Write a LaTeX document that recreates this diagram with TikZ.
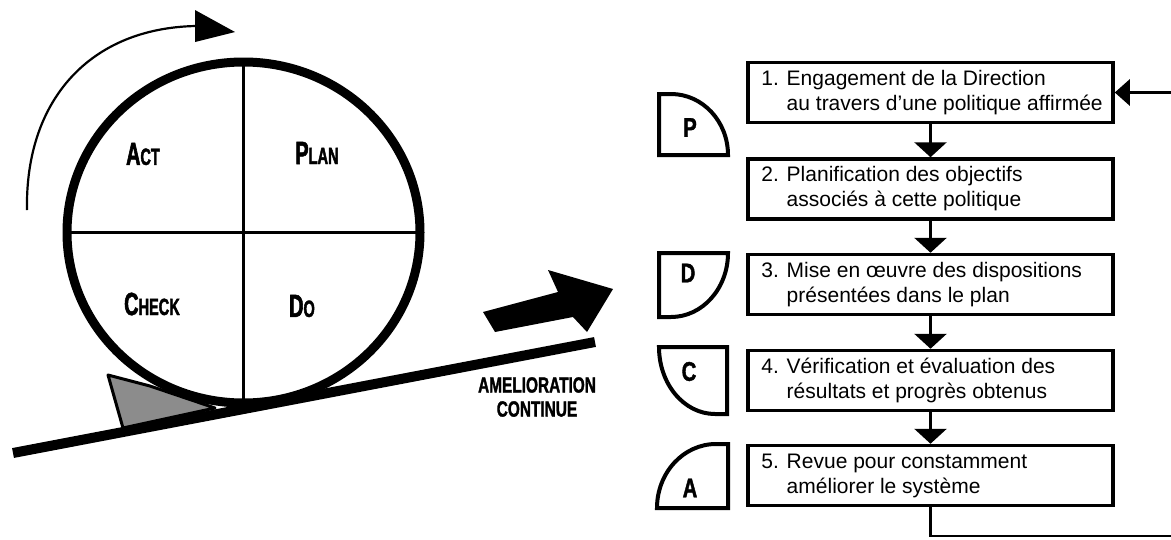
\documentclass[tikz,border=0pt]{standalone}
\usepackage{fontspec}
\setmainfont{Liberation Sans}
\newfontfamily\condA{Liberation Sans}[FakeStretch=0.62, BoldFeatures={FakeBold=1.8}]
\newfontfamily\condB{Liberation Sans}[FakeStretch=0.7, BoldFeatures={FakeBold=1.5}]
\newfontfamily\condC{Liberation Sans}[FakeStretch=0.75, BoldFeatures={FakeBold=1.5}]
\usetikzlibrary{arrows.meta}
\definecolor{wedgegray}{RGB}{140,140,140}
\begin{document}
\begin{tikzpicture}[x=1pt,y=-1pt,
  wheel/.style={line width=9pt},
  cross/.style={line width=3.5pt},
  wlabel/.style={font=\condA\bfseries\fontsize{32}{32}\selectfont, inner sep=0pt},
  box/.style={draw, line width=3.5pt, minimum width=365pt, minimum height=60pt, inner sep=0pt},
  boxtext/.style={anchor=west, align=left, inner sep=0pt, font=\fontsize{21}{25}\selectfont},
  flow/.style={line width=3pt, -{Triangle[length=15pt,width=32pt]}},
  loopline/.style={line width=2.5pt},
  quad/.style={draw, line width=4pt, line join=miter},
  letter/.style={font=\condC\bfseries\fontsize{27}{27}\selectfont, inner sep=0pt},
  contlabel/.style={font=\condB\bfseries\fontsize{22}{24}\selectfont, align=center, inner sep=0pt}
]
\useasboundingbox (0,0) rectangle (1171,539);

% ---------- left: PDCA wheel on a slope ----------
\coordinate (wc) at (243.5,232.5);
% wedge
\filldraw[fill=wedgegray, line width=3pt, line join=round]
  (108,375) -- (150,386) -- (215,408) -- (123,428) -- cycle;
% cross
\draw[cross] (243.5,62) -- (243.5,403);
\draw[cross] (67,232.5) -- (420,232.5);
% wheel
\draw[wheel] (wc) ellipse [x radius=176.5pt, y radius=170.5pt];
% slope
\draw[line width=10pt] (13,453) -- (595,342);
% rotation arrow
\draw[line width=2.2pt] (27,210) .. controls (25,100) and (90,28) .. (196,26);
\fill (195,10) -- (235,32) -- (195,42) -- cycle;
% big arrow
\fill (483,312) -- (558,292) -- (548,270) -- (613,289) -- (587,332) -- (573,317) -- (495,332) -- cycle;

% wheel labels
\node[wlabel] (act) at (143,154) {A{\fontsize{23.5}{24}\selectfont CT}};
\node[wlabel] (plan) at (317,153) {P{\fontsize{23.5}{24}\selectfont LAN}};
\node[wlabel] (check) at (152,304) {C{\fontsize{23.5}{24}\selectfont HECK}};
\node[wlabel] (do) at (302,306) {D{\fontsize{23.5}{24}\selectfont O}};
\node[contlabel] (amel) at (537,397) {AMELIORATION\\CONTINUE};

% ---------- right: steps ----------
\node[box] (b1) at (930.5,92.5) {};
\node[box] (b2) at (930.5,189) {};
\node[box] (b3) at (930.5,284.5) {};
\node[box] (b4) at (930.5,380.5) {};
\node[box] (b5) at (930.5,475.5) {};

\node[boxtext] (t1) at ([xshift=15pt]b1.west) {1. Engagement de la Direction\\\phantom{1. }au travers d'une politique affirmée};
\node[boxtext] (t2) at ([xshift=15pt]b2.west) {2. Planification des objectifs\\\phantom{2. }associés à cette politique};
\node[boxtext] (t3) at ([xshift=15pt]b3.west) {3. Mise en œuvre des dispositions\\\phantom{3. }présentées dans le plan};
\node[boxtext] (t4) at ([xshift=15pt]b4.west) {4. Vérification et évaluation des\\\phantom{4. }résultats et progrès obtenus};
\node[boxtext] (t5) at ([xshift=15pt]b5.west) {5. Revue pour constamment\\\phantom{5. }améliorer le système};

\draw[flow] (b1) -- (b2);
\draw[flow] (b2) -- (b3);
\draw[flow] (b3) -- (b4);
\draw[flow] (b4) -- (b5);

\coordinate (f1) at (930.5,536);
\coordinate (f2) at (1171,536);
\coordinate (f3) at (1171,92.5);
\draw[loopline] (b5) -- (f1) -- (f2);
\draw[loopline, -{Triangle[length=15pt,width=26pt]}] (f3) -- (b1);

% PDCA quadrant tabs
\draw[quad] (659,155) -- (659,94) -- (671,94) .. controls (702.5,94) and (728,121.3) .. (728,155) -- cycle;
\draw[quad] (659,253) -- (728,253) .. controls (728,288.3) and (702.5,317) .. (671,317) -- (659,317) -- cycle;
\draw[quad] (727,347) -- (659,347) .. controls (659,384) and (684,414) .. (715,414) -- (727,414) -- cycle;
\draw[quad] (728,508) -- (657,508) .. controls (657,472.7) and (683.4,444) .. (716,444) -- (728,444) -- cycle;

\node[letter] (lp) at (690,127.5) {P};
\node[letter] (ld) at (688,273) {D};
\node[letter] (lc) at (689,371.5) {C};
\node[letter] (la) at (690,488) {A};
\end{tikzpicture}
\end{document}
